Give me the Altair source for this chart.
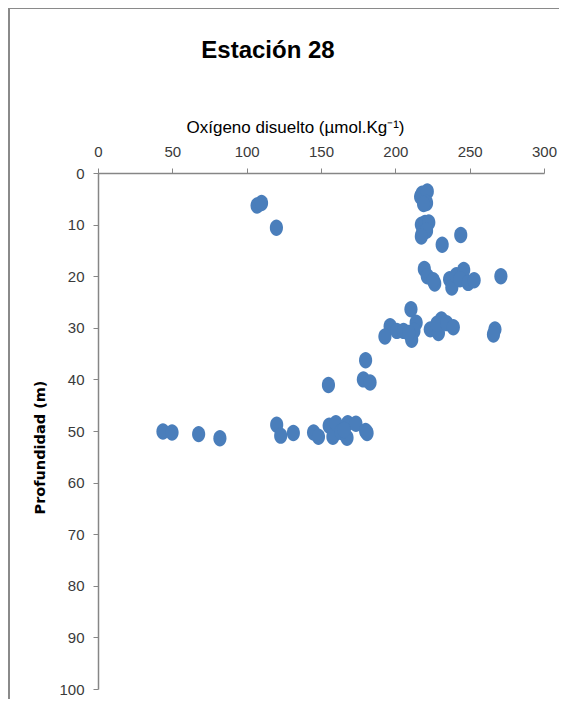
import altair as alt
import pandas as pd

# Oxygen (µmol/kg) and depth (m)
oxigeno = [107, 110, 120,
           217, 218, 221.5, 221, 219,
           217.5, 220, 222.5, 218, 221, 217.5,
           244, 231.5,
           219.5, 221.5, 226.5, 225.5, 236.5, 238, 241, 246, 243.5, 249, 253, 271,
           210.5, 196.5, 193, 201, 205.5, 211, 214, 212.5, 209, 223.5, 229, 231, 228, 234.5, 239, 267, 266,
           180, 178.5, 183, 155,
           43.7, 49.8, 67.7, 82, 120.2, 122.9, 131.4, 145, 148.3, 155.5, 158, 160, 163.5, 167.5, 168,
           173.5, 180, 181, 165.5]
profundidad = [6.3, 5.8, 10.6,
               4.6, 4.0, 3.6, 5.8, 6.0,
               10.0, 9.7, 9.6, 11.8, 11.2, 12.3,
               12.0, 13.9,
               18.6, 20.0, 21.4, 20.8, 20.6, 22.2, 19.8, 18.8, 20.6, 21.3, 20.8, 20.0,
               26.4, 29.7, 31.7, 30.6, 30.6, 32.3, 29.0, 30.6, 31.0, 30.3, 31.0, 28.4, 29.2, 29.1, 29.9, 30.3, 31.3,
               36.3, 40.0, 40.6, 41.1,
               50.1, 50.3, 50.6, 51.4, 48.8, 50.9, 50.4, 50.3, 51.1, 49.0, 51.1, 48.5, 50.2, 51.3, 48.5,
               48.6, 50.0, 50.4, 49.8]

x_ticks = [0, 50, 100, 150, 200, 250, 300]
y_ticks = [0, 10, 20, 30, 40, 50, 60, 70, 80, 90, 100]
titulo = "Estación 28"

df = pd.DataFrame({"oxigeno": oxigeno, "profundidad": profundidad})

FONT = "Liberation Sans, Arial, sans-serif"
AXIS_GREY = "#868686"
LABEL = "#3a3a3a"
FRAME = "#8a8a8a"

ellipse = "M0,-1 A0.8,1 0 1,1 0,1 A0.8,1 0 1,1 0,-1 Z"

one = pd.DataFrame({"t": [titulo]})

frame_top = alt.Chart(one).mark_rule(color=FRAME, strokeWidth=2).encode(
    x=alt.value(-90), x2=alt.value(461), y=alt.value(-165)
)
frame_left = alt.Chart(one).mark_rule(color=FRAME, strokeWidth=2).encode(
    x=alt.value(-89), y=alt.value(-165), y2=alt.value(526)
)

title = alt.Chart(one).mark_text(
    font=FONT, fontSize=24, fontWeight="bold", color="black",
    align="center", baseline="alphabetic"
).encode(
    x=alt.value(170), y=alt.value(-115), text="t:N"
)

points = alt.Chart(df).mark_point(
    shape=ellipse, filled=True, color="#4a7ebb", opacity=1, size=270
).encode(
    x=alt.X("oxigeno:Q",
            scale=alt.Scale(domain=[0, 300], nice=False, zero=False),
            axis=alt.Axis(orient="top", values=x_ticks, grid=False,
                          title="Oxígeno disuelto (µmol.Kg⁻¹)",
                          titleFont=FONT, titleFontSize=17, titleFontWeight="normal",
                          titleColor="black", titleX=197, titleY=-41,
                          titleAlign="center", titleBaseline="alphabetic",
                          labelFont=FONT, labelFontSize=15, labelColor=LABEL,
                          labelFlush=False, labelOverlap=False,
                          labelPadding=9, tickSize=5, tickColor=AXIS_GREY,
                          domainColor=AXIS_GREY, domainWidth=1.5)),
    y=alt.Y("profundidad:Q",
            scale=alt.Scale(domain=[0, 100], reverse=True, nice=False),
            axis=alt.Axis(values=y_ticks, grid=False,
                          title="Profundidad (m)",
                          titleFont="DejaVu Sans", titleFontSize=14.5, titleFontWeight="bold",
                          titleColor="black", titleX=-58, titleY=274, titleAngle=270,
                          titleAlign="center", titleBaseline="middle",
                          labelFont=FONT, labelFontSize=15, labelColor=LABEL,
                          labelFlush=False, labelOverlap=False,
                          labelPadding=9, tickSize=5, tickColor=AXIS_GREY,
                          domainColor=AXIS_GREY, domainWidth=1.5)),
)

chart = alt.layer(frame_top, frame_left, title, points).properties(
    width=446, height=516,
    autosize=alt.AutoSizeParams(type="none"),
    padding={"left": 90, "top": 165, "right": 15, "bottom": 10},
).configure_view(stroke=None)

chart.save("out.html", embed_options={"renderer": "svg", "actions": False})
